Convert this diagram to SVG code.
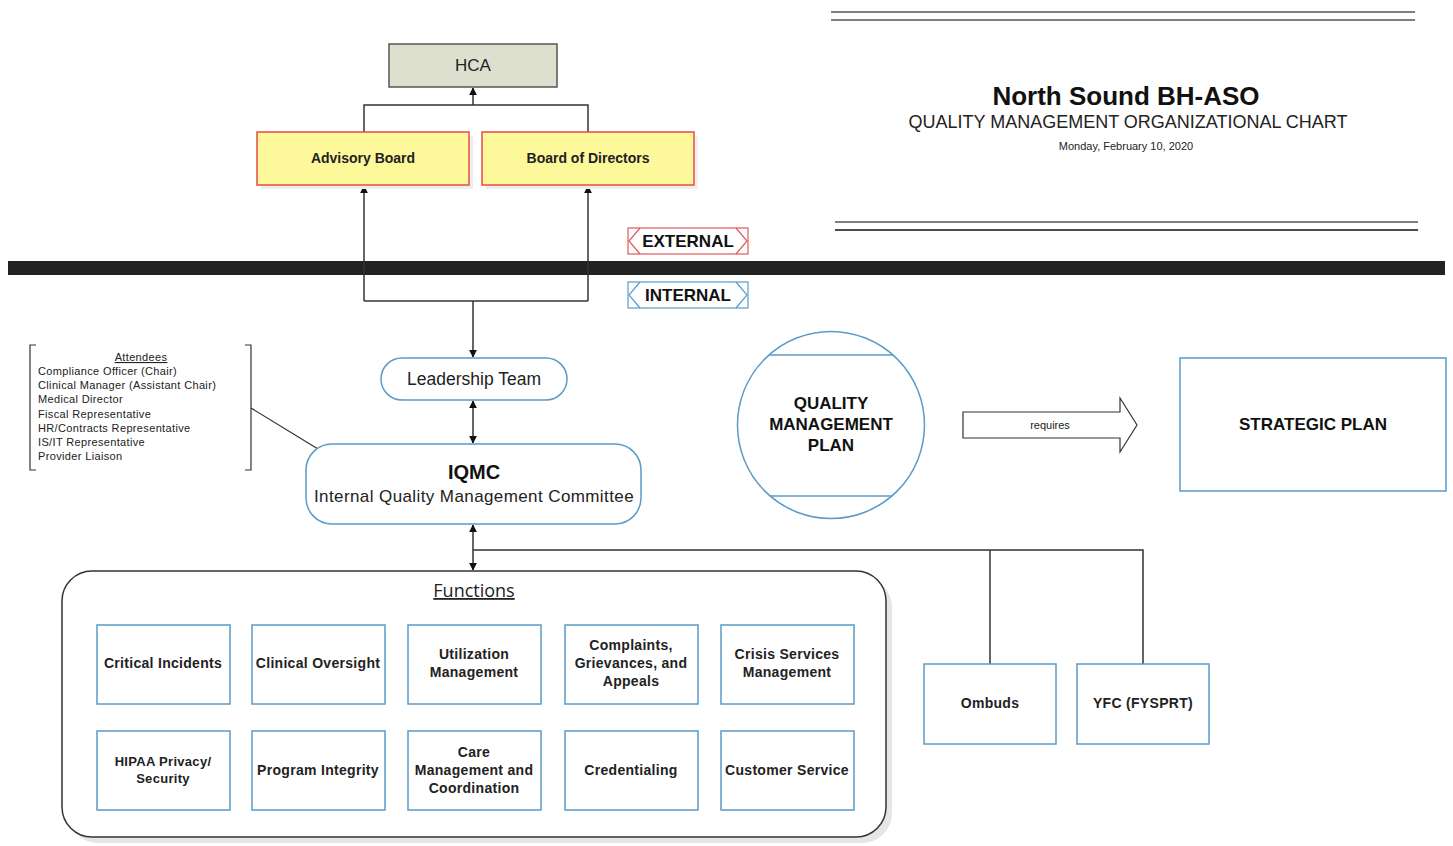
<svg xmlns="http://www.w3.org/2000/svg" width="1453" height="846" viewBox="0 0 1453 846">
<defs>
<marker id="ah" viewBox="0 0 10 10" refX="9" refY="5" markerWidth="8" markerHeight="8" markerUnits="userSpaceOnUse" orient="auto-start-reverse"><path d="M0,0 L10,5 L0,10 z" fill="#111"/></marker>
<style>
text{font-family:"Liberation Sans",Arial,sans-serif;fill:#222;}
.b{font-weight:bold;}
.fn{font-size:14px;font-weight:bold;text-anchor:middle;letter-spacing:0.3px;}
.box{fill:#fff;stroke:#5a9bc8;stroke-width:1.5;}
.con{fill:none;stroke:#333;stroke-width:1.5;}
.att{font-size:11px;letter-spacing:0.35px;}
</style>
</defs>
<rect width="1453" height="846" fill="#fff"/>

<g id="title">
<line x1="831" y1="12" x2="1415" y2="12" stroke="#555" stroke-width="1.5"/>
<line x1="831" y1="20" x2="1415" y2="20" stroke="#555" stroke-width="1.5"/>
<text x="1126" y="105" class="b" font-size="26" text-anchor="middle" style="fill:#111">North Sound BH-ASO</text>
<text x="1128" y="128" font-size="18" text-anchor="middle">QUALITY MANAGEMENT ORGANIZATIONAL CHART</text>
<text x="1126" y="150" font-size="11" text-anchor="middle">Monday, February 10, 2020</text>
<line x1="835" y1="222" x2="1418" y2="222" stroke="#555" stroke-width="1.5"/>
<line x1="835" y1="230" x2="1418" y2="230" stroke="#111" stroke-width="1.5"/>
</g>

<g id="divider">
<rect x="8" y="261" width="1437" height="14" fill="#222"/>
</g>

<g id="connectors">
<line x1="473" y1="105" x2="473" y2="88" class="con" marker-end="url(#ah)"/>
<polyline points="364,132 364,105 588,105 588,132" class="con"/>
<polyline points="364,301 364,186" class="con" marker-end="url(#ah)"/>
<polyline points="588,301 588,186" class="con" marker-end="url(#ah)"/>
<line x1="364" y1="301" x2="588" y2="301" class="con"/>
<line x1="473" y1="301" x2="473" y2="357" class="con" marker-end="url(#ah)"/>
<line x1="473" y1="401" x2="473" y2="443" class="con" marker-start="url(#ah)" marker-end="url(#ah)"/>
<line x1="473" y1="525" x2="473" y2="570" class="con" marker-start="url(#ah)" marker-end="url(#ah)"/>
<polyline points="473,550 1143,550 1143,664" class="con"/>
<line x1="990" y1="550" x2="990" y2="664" class="con"/>
<line x1="251" y1="408" x2="318" y2="449" stroke="#333" stroke-width="1.2"/>
</g>

<g id="hca">
<rect x="389" y="44" width="168" height="43" fill="#dde0cf" stroke="#555" stroke-width="1.5"/>
<text x="473" y="71" font-size="17" text-anchor="middle">HCA</text>
</g>

<g id="advisory-board">
<rect x="261" y="136" width="212" height="53" fill="#eee"/>
<rect x="257" y="132" width="212" height="53" fill="#fdf89a" stroke="#e84a4a" stroke-width="1.5"/>
<text x="363" y="163" class="b" font-size="14" text-anchor="middle">Advisory Board</text>
</g>

<g id="board-of-directors">
<rect x="486" y="136" width="212" height="53" fill="#eee"/>
<rect x="482" y="132" width="212" height="53" fill="#fdf89a" stroke="#e84a4a" stroke-width="1.5"/>
<text x="588" y="163" class="b" font-size="14" text-anchor="middle">Board of Directors</text>
</g>

<g id="external">
<rect x="628" y="228" width="120" height="26" fill="#fff" stroke="#e05a5a" stroke-width="1.2"/>
<polyline points="640,228 629,241 640,254" fill="none" stroke="#e05a5a" stroke-width="1.2"/>
<polyline points="736,228 747,241 736,254" fill="none" stroke="#e05a5a" stroke-width="1.2"/>
<text x="688" y="247" class="b" font-size="17" text-anchor="middle" style="fill:#111">EXTERNAL</text>
</g>

<g id="internal">
<rect x="628" y="282" width="120" height="26" fill="#fff" stroke="#5a9bc8" stroke-width="1.2"/>
<polyline points="640,282 629,295 640,308" fill="none" stroke="#5a9bc8" stroke-width="1.2"/>
<polyline points="736,282 747,295 736,308" fill="none" stroke="#5a9bc8" stroke-width="1.2"/>
<text x="688" y="301" class="b" font-size="17" text-anchor="middle" style="fill:#111">INTERNAL</text>
</g>

<g id="attendees">
<polyline points="36,345 30,345 30,470 36,470" fill="none" stroke="#333" stroke-width="1.2"/>
<polyline points="245,345 251,345 251,470 245,470" fill="none" stroke="#333" stroke-width="1.2"/>
<text x="141" y="361" class="att" text-anchor="middle" text-decoration="underline">Attendees</text>
<text x="38" y="375" class="att">Compliance Officer (Chair)</text>
<text x="38" y="389" class="att">Clinical Manager (Assistant Chair)</text>
<text x="38" y="403" class="att">Medical Director</text>
<text x="38" y="418" class="att">Fiscal Representative</text>
<text x="38" y="432" class="att">HR/Contracts Representative</text>
<text x="38" y="446" class="att">IS/IT Representative</text>
<text x="38" y="460" class="att">Provider Liaison</text>
</g>

<g id="leadership-team">
<rect x="381" y="358" width="186" height="42" rx="21" fill="#fff" stroke="#5a9bc8" stroke-width="1.5"/>
<text x="474" y="385" font-size="17.5" text-anchor="middle">Leadership Team</text>
</g>

<g id="iqmc">
<rect x="306" y="444" width="335" height="80" rx="26" fill="#fff" stroke="#5a9bc8" stroke-width="1.5"/>
<text x="474" y="479" class="b" font-size="20" text-anchor="middle" style="fill:#111">IQMC</text>
<text x="474" y="502" font-size="17" text-anchor="middle" letter-spacing="0.4">Internal Quality Management Committee</text>
</g>

<g id="quality-management-plan">
<circle cx="831" cy="425" r="93.5" fill="#fff" stroke="#5a9bc8" stroke-width="1.5"/>
<line x1="769" y1="355" x2="893" y2="355" stroke="#5a9bc8" stroke-width="1.5"/>
<line x1="770" y1="496" x2="892" y2="496" stroke="#5a9bc8" stroke-width="1.5"/>
<text x="831" y="409" class="b" font-size="17" text-anchor="middle" style="fill:#111">QUALITY</text>
<text x="831" y="430" class="b" font-size="17" text-anchor="middle" style="fill:#111">MANAGEMENT</text>
<text x="831" y="451" class="b" font-size="17" text-anchor="middle" style="fill:#111">PLAN</text>
</g>

<g id="requires">
<path d="M963,412 L1120,412 L1120,398 L1137,425 L1120,452 L1120,438 L963,438 Z" fill="#fff" stroke="#333" stroke-width="1.2"/>
<text x="1050" y="429" font-size="11" text-anchor="middle">requires</text>
</g>

<g id="strategic-plan">
<rect x="1180" y="358" width="266" height="133" class="box"/>
<text x="1313" y="430" class="b" font-size="17" text-anchor="middle" style="fill:#111">STRATEGIC PLAN</text>
</g>

<g id="functions">
<rect x="68" y="577" width="824" height="266" rx="30" fill="#e6e6e6"/>
<rect x="62" y="571" width="824" height="266" rx="30" fill="#fff" stroke="#333" stroke-width="1.5"/>
<text x="474" y="597" font-size="18" text-anchor="middle" text-decoration="underline" style="font-family:'Open Sans',sans-serif">Functions</text>
</g>

<g id="critical-incidents">
<rect x="97" y="625" width="133" height="79" class="box"/>
<text x="163" y="668" class="fn">Critical Incidents</text>
</g>
<g id="clinical-oversight">
<rect x="252" y="625" width="133" height="79" class="box"/>
<text x="318" y="668" class="fn">Clinical Oversight</text>
</g>
<g id="utilization-management">
<rect x="408" y="625" width="133" height="79" class="box"/>
<text x="474" y="659" class="fn">Utilization</text>
<text x="474" y="677" class="fn">Management</text>
</g>
<g id="complaints">
<rect x="565" y="625" width="133" height="79" class="box"/>
<text x="631" y="650" class="fn">Complaints,</text>
<text x="631" y="668" class="fn">Grievances, and</text>
<text x="631" y="686" class="fn">Appeals</text>
</g>
<g id="crisis-services">
<rect x="721" y="625" width="133" height="79" class="box"/>
<text x="787" y="659" class="fn">Crisis Services</text>
<text x="787" y="677" class="fn">Management</text>
</g>
<g id="hipaa">
<rect x="97" y="731" width="133" height="79" class="box"/>
<text x="163" y="766" class="fn" style="font-size:13px">HIPAA Privacy/</text>
<text x="163" y="783" class="fn" style="font-size:13px">Security</text>
</g>
<g id="program-integrity">
<rect x="252" y="731" width="133" height="79" class="box"/>
<text x="318" y="775" class="fn">Program Integrity</text>
</g>
<g id="care-management">
<rect x="408" y="731" width="133" height="79" class="box"/>
<text x="474" y="757" class="fn">Care</text>
<text x="474" y="775" class="fn">Management and</text>
<text x="474" y="793" class="fn">Coordination</text>
</g>
<g id="credentialing">
<rect x="565" y="731" width="133" height="79" class="box"/>
<text x="631" y="775" class="fn">Credentialing</text>
</g>
<g id="customer-service">
<rect x="721" y="731" width="133" height="79" class="box"/>
<text x="787" y="775" class="fn">Customer Service</text>
</g>

<g id="ombuds">
<rect x="924" y="664" width="132" height="80" class="box"/>
<text x="990" y="708" class="fn">Ombuds</text>
</g>
<g id="yfc">
<rect x="1077" y="664" width="132" height="80" class="box"/>
<text x="1143" y="708" class="fn">YFC (FYSPRT)</text>
</g>
</svg>
